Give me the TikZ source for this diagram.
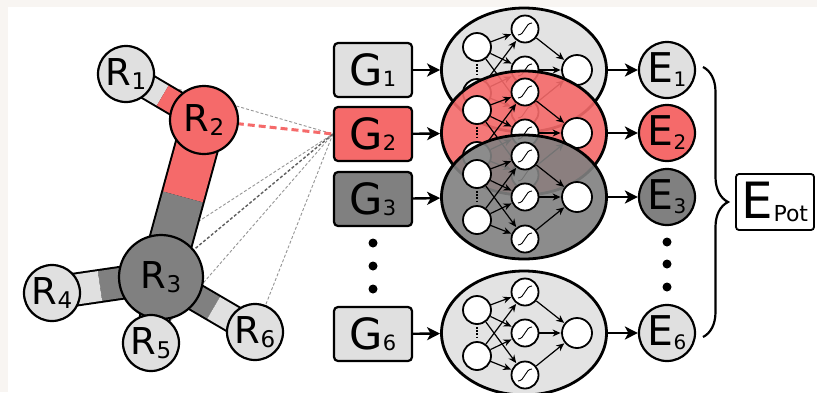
\documentclass[tikz,border=0pt]{standalone}
\usepackage{fontspec}
\setmainfont{DejaVu Sans}
\usetikzlibrary{arrows.meta,decorations.pathreplacing,calc,shapes.geometric}

\definecolor{pagetint}{RGB}{248,245,242}
\definecolor{softgray}{RGB}{224,224,224}
\definecolor{salmon}{RGB}{245,106,106}
\definecolor{midgray}{RGB}{128,128,128}
\definecolor{dashgray}{RGB}{150,150,150}
\definecolor{dashdark}{RGB}{95,95,95}

\pgfdeclarelayer{backdrop}
\pgfdeclarelayer{links}
\pgfdeclarelayer{sticks}
\pgfsetlayers{backdrop,links,sticks,main}

% symbol with a lowered index
\newcommand\idx[5]{{\fontsize{#1}{#1}\selectfont #3}\raisebox{-#5}{\fontsize{#2}{#2}\selectfont #4}}
\newcommand\atomlbl[1]{\idx{37pt}{23pt}{R}{#1}{4pt}}
\newcommand\glbl[1]{\idx{43pt}{21pt}{G}{#1}{0.5pt}}
\newcommand\elbl[1]{\idx{41pt}{20pt}{E}{#1}{4pt}}

% small feed-forward network: two inputs, three sigmoid units, one output
\newcommand\mlpnet[2]{%
  \begin{scope}[shift={(#2)}]
    \node[unit] (#1i1) at (-47,-23) {};
    \node[unit] (#1i2) at (-47,23) {};
    \node[unit,sigm] (#1h1) at (1,-41) {};
    \node[unit,sigm] (#1h2) at (1,0) {};
    \node[unit,sigm] (#1h3) at (1,42) {};
    \node[unit,minimum size=30pt] (#1o) at (53,0) {};
    \draw[inputdots] (#1i1) -- (#1i2);
    \foreach \a in {1,2}{\foreach \b in {1,2,3}{\draw[netlink] (#1i\a) -- (#1h\b);}}
    \foreach \b in {1,2,3}{\draw[netlink] (#1h\b) -- (#1o);}
  \end{scope}}

% two-coloured bond stick: from, to, split fraction, inner width, outer width, colours
\newcommand\bondstick[7]{%
  \draw[line width=#5] (#1.center) -- (#2.center);
  \draw[line width=#4, #6] (#1.center) -- ($(#1.center)!#3!(#2.center)$);
  \draw[line width=#4, #7] ($(#1.center)!#3!(#2.center)$) -- (#2.center);}

\begin{document}
\begin{tikzpicture}[x=1pt,y=-1pt,
  atom/.style={circle,draw,line width=2.2pt,inner sep=0pt,minimum size=56pt},
  gbox/.style={rectangle,rounded corners=4pt,draw,line width=2.2pt,inner sep=0pt,
    minimum width=78pt,minimum height=54pt},
  enode/.style={circle,draw,line width=2.2pt,inner sep=0pt,minimum size=56pt},
  netblob/.style={ellipse,draw,line width=2.8pt,minimum width=165pt,minimum height=124pt,
    inner sep=0pt,fill opacity=0.9},
  unit/.style={circle,draw,line width=1.8pt,fill=white,inner sep=0pt,minimum size=28pt},
  sigm/.style={minimum size=27pt,path picture={
    \draw[line width=0.9pt] ([shift={(-7,6)}]path picture bounding box.center)
      .. controls +(7,0) and +(-7,0) .. ++(14,-12);}},
  netlink/.style={line width=1.2pt,-{Stealth[length=8pt,width=7pt]},shorten >=0.5pt},
  inputdots/.style={line width=2pt,dash pattern=on 1.6pt off 1.6pt,shorten >=2pt,shorten <=2pt},
  bigarrow/.style={line width=2.4pt,-{Stealth[length=13pt,width=13pt,inset=3.5pt]}},
  thinlink/.style={dashgray,line width=0.9pt,dash pattern=on 3pt off 2pt},
  darklink/.style={dashdark,line width=1.4pt,dash pattern=on 3pt off 2pt},
  redlink/.style={salmon,line width=3pt,dash pattern=on 7pt off 4pt},
  dotmark/.style={circle,fill,inner sep=0pt,minimum size=9pt}]

\useasboundingbox (0,0) rectangle (817,392);
\begin{pgfonlayer}{backdrop}
  \fill[pagetint] (0,0) rectangle (817,392);
  \fill[white] (8,7) rectangle (817,392);
\end{pgfonlayer}

% ---------- molecule ----------
\node[atom,fill=softgray] (R1) at (126,74) {\atomlbl{1}};
\node[atom,fill=salmon,minimum size=68pt] (R2) at (204,120) {\atomlbl{2}};
\node[atom,fill=midgray,minimum size=84pt] (R3) at (161,277) {\atomlbl{3}};
\node[atom,fill=softgray] (R4) at (52,293) {\atomlbl{4}};
\node[atom,fill=softgray] (R5) at (151,343) {\atomlbl{5}};
\node[atom,fill=softgray] (R6) at (255,332) {\atomlbl{6}};

% ---------- descriptor boxes ----------
\node[gbox,fill=softgray] (G1) at (373,70) {\glbl{1}};
\node[gbox,fill=salmon] (G2) at (373,134) {\glbl{2}};
\node[gbox,fill=midgray] (G3) at (373,199) {\glbl{3}};
\node[gbox,fill=softgray] (G6) at (373,334) {\glbl{6}};
\node[dotmark] (gd1) at (373,243) {};
\node[dotmark] (gd2) at (373,266) {};
\node[dotmark] (gd3) at (373,289) {};

% ---------- atomic networks ----------
\node[netblob,fill=softgray] (N1) at (524,70) {};
\mlpnet{a}{524,70}
\node[netblob,fill=salmon] (N2) at (524,133) {};
\mlpnet{b}{524,133}
\node[netblob,fill=midgray] (N3) at (524,197) {};
\mlpnet{c}{524,197}
\node[netblob,fill=softgray] (N6) at (524,333) {};
\mlpnet{d}{524,333}

% ---------- atomic energies ----------
\node[enode,fill=softgray] (E1) at (667,70) {\elbl{1}};
\node[enode,fill=salmon] (E2) at (667,133) {\elbl{2}};
\node[enode,fill=midgray] (E3) at (667,197) {\elbl{3}};
\node[enode,fill=softgray] (E6) at (667,333) {\elbl{6}};
\node[dotmark] (ed1) at (667,242) {};
\node[dotmark] (ed2) at (667,264) {};
\node[dotmark] (ed3) at (667,287) {};

\node[rectangle,rounded corners=3pt,draw,line width=1.8pt,minimum width=78pt,
  minimum height=56pt,inner sep=0pt] (Epot) at (775,202) {\idx{50pt}{22pt}{E}{Pot}{3pt}};

\coordinate (bt) at (703,67);
\coordinate (bb) at (703,337);
\draw[line width=2.2pt,decorate,decoration={brace,amplitude=25pt}] (bt) -- (bb);

% ---------- flow arrows ----------
\foreach \k in {1,2,3,6}{
  \draw[bigarrow] (G\k) -- (N\k);
  \draw[bigarrow] (N\k) -- (E\k);
}

% ---------- bonds ----------
\begin{pgfonlayer}{sticks}
  \bondstick{R1}{R2}{0.47}{23pt}{27pt}{softgray}{salmon}
  \bondstick{R2}{R3}{0.49}{41pt}{45pt}{salmon}{midgray}
  \bondstick{R3}{R4}{0.56}{30pt}{34pt}{midgray}{softgray}
  \bondstick{R3}{R5}{0.60}{28pt}{32pt}{midgray}{softgray}
  \bondstick{R3}{R6}{0.56}{25pt}{29pt}{midgray}{softgray}
\end{pgfonlayer}

% ---------- neighbourhood of atom 2 ----------
\begin{pgfonlayer}{links}
  \draw[thinlink] (R1.center) -- (G2.west);
  \draw[thinlink] (R4.-10) -- (G2.west);
  \draw[thinlink] (R5.center) -- (G2.west);
  \draw[thinlink] (R6.center) -- (G2.west);
  \draw[darklink] (R3.center) -- (G2.west);
  \draw[redlink] (R2.center) -- (G2.west);
\end{pgfonlayer}
\end{tikzpicture}
\end{document}
